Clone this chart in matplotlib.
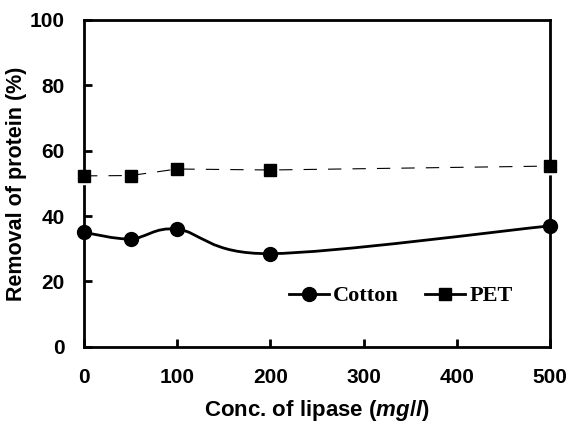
import numpy as np
import matplotlib
matplotlib.use('Agg')
import matplotlib.pyplot as plt
from matplotlib.path import Path
from matplotlib.patches import PathPatch
from matplotlib.lines import Line2D

conc = [0, 50, 100, 200, 500]
cotton = [35, 33, 36, 28.5, 37]
pet = [52.3, 52.4, 54.4, 54.1, 55.3]

xticks = [0, 100, 200, 300, 400, 500]
yticks = [0, 20, 40, 60, 80, 100]

plt.rcParams['mathtext.fontset'] = 'custom'
plt.rcParams['mathtext.it'] = 'Liberation Sans:italic:bold'
plt.rcParams['mathtext.rm'] = 'Liberation Sans:bold'


def smooth_path(x, y, t=0.5):
    # bezier through the points, like a spreadsheet "smoothed line"
    x = np.asarray(x, float)
    y = np.asarray(y, float)
    verts = [(x[0], y[0])]
    codes = [Path.MOVETO]
    n = len(x)
    for i in range(n - 1):
        x0, y0 = (x[i - 1], y[i - 1]) if i > 0 else (x[i], y[i])
        x3, y3 = (x[i + 2], y[i + 2]) if i + 2 < n else (x[i + 1], y[i + 1])
        c1 = (x[i] + (x[i + 1] - x0) * t / 3, y[i] + (y[i + 1] - y0) * t / 3)
        c2 = (x[i + 1] - (x3 - x[i]) * t / 3, y[i + 1] - (y3 - y[i]) * t / 3)
        verts += [c1, c2, (x[i + 1], y[i + 1])]
        codes += [Path.CURVE4] * 3
    return Path(verts, codes)


fig = plt.figure(figsize=(5.68, 4.25), dpi=100)
ax = fig.add_axes([0.148, 0.184, 0.82, 0.769])

ax.add_patch(PathPatch(smooth_path(conc, cotton), fill=False, lw=2, ec='black', zorder=3))
ax.plot(conc, cotton, 'o', color='black', ms=10, clip_on=False, zorder=4)

# PET: white halo (cuts the spines like in the scan), thin broken line, markers
ax.plot(conc, [v - 1.8 for v in pet], color='white', lw=5, clip_on=False, zorder=5)
ax.plot(conc, pet, color='black', lw=0.8, ls=(0, (12, 10)), clip_on=False, zorder=6)
ax.plot(conc, pet, 's', color='black', ms=8, clip_on=False, zorder=6)

ax.set_xlim(0, 500)
ax.set_ylim(0, 100)
ax.set_xticks(xticks)
ax.set_yticks(yticks)
ax.tick_params(direction='in', length=6, width=2, labelsize=15)
ax.tick_params(axis='x', pad=15)
ax.tick_params(axis='y', pad=14)
for lab in ax.get_xticklabels() + ax.get_yticklabels():
    lab.set_fontweight('bold')
    lab.set_family('Liberation Sans')
for s in ax.spines.values():
    s.set_linewidth(2)

ax.set_xlabel('Conc. of lipase ($\\it{mg/l}$)', fontsize=16, fontweight='bold',
              family='Liberation Sans', labelpad=8)
ax.set_ylabel('Removal of protein (%)', fontsize=15.5, fontweight='bold',
              family='Liberation Sans', labelpad=2)

handles = [Line2D([], [], color='black', lw=2, marker='o', ms=10),
           Line2D([], [], color='black', lw=2, marker='s', ms=9)]
ax.legend(handles, ['Cotton', 'PET'], ncol=2, frameon=False, loc='center',
          bbox_to_anchor=(0.68, 0.155), handlelength=1.8, handletextpad=0.2,
          columnspacing=1.2, prop={'family': 'Liberation Serif', 'weight': 'bold', 'size': 16})

fig.savefig('out.png', dpi=100)
